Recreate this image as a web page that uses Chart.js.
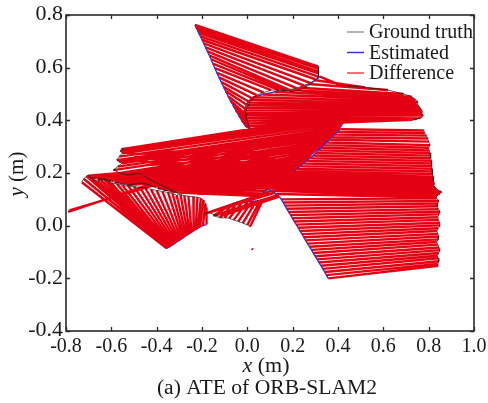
<!DOCTYPE html>
<html><head><meta charset="utf-8">
<script src="https://cdn.jsdelivr.net/npm/chart.js@4.4.0/dist/chart.umd.min.js"></script>
<style>html,body{margin:0;padding:0;background:#fff;}#wrap{width:488px;height:403px;position:relative;}</style>
</head><body><div id="wrap"><canvas id="c" width="488" height="403"></canvas></div>
<script>
// Ground-truth positions (m); null separates trajectory pieces
const gtX = [
 -0.730,-0.722,-0.710,-0.702,-0.690,-0.675,-0.660,-0.645,-0.630,-0.620,
 -0.600,-0.575,-0.550,-0.525,-0.500,-0.475,-0.450,-0.425,-0.400,-0.375,-0.350,-0.330,-0.312,-0.295,-0.278,-0.260,-0.238,-0.220,-0.205,-0.194,-0.185,-0.180, null,
 -0.150,-0.120,-0.100,-0.080,-0.060,-0.040,-0.020,0.000,0.012, null,
 -0.700,-0.685,-0.660,-0.635,-0.610,-0.585,-0.560,-0.532,-0.500,-0.470,-0.445,-0.420,-0.395,-0.370,-0.340,-0.310,
 -0.429,-0.452,-0.474,-0.500,-0.532,-0.560,-0.591,-0.572,-0.554,-0.566,-0.576,-0.565,-0.552,-0.560,-0.556,-0.540, null,
 -0.520,null,-0.500,null,-0.480,null,-0.460,null,-0.440,null,-0.420,null,-0.400,null,-0.380,null,-0.360,null,-0.340,null,-0.320,null,-0.300,null,-0.280,null,-0.260,null,-0.240,null,-0.220, null,
 -0.190,-0.170,-0.140,-0.120, null,
 -0.790,-0.785, null,
 0.778,0.782,0.790,0.796,0.800,0.806,0.800,0.802,0.806,0.810,0.808,0.812,0.813,0.813,0.815,0.815,0.818,0.820,0.820,
 0.822,0.826,0.822,0.828,0.834,0.842,0.857,0.850,0.842,0.836,0.832,
 0.835,0.845,0.840,0.838,0.842,0.850,0.846,0.840,0.843,0.848,0.850,0.842,0.836,0.840,0.845,0.842,0.835,0.840,0.846,0.850,0.844,0.838,0.842,0.845,0.840,0.842, null,
 0.313,0.316,0.312,0.316,0.313,0.300,0.282,0.262,0.235,0.203,0.172,0.140,0.105,0.072,0.041,0.025,0.012,0.004,-0.004,-0.010,-0.006,0.000,0.004,0.008,0.012, null,
 0.410,0.520,0.620,0.690,0.725,0.732,0.742,0.752,0.748,0.756,0.762,0.768,0.772,0.769,0.776,0.772,0.765,0.750,0.730, null,
 0.020
];
const gtY = [
 0.165,0.178,0.188,0.192,0.182,0.172,0.170,0.172,0.174,0.173,
 0.162,0.158,0.152,0.150,0.148,0.146,0.142,0.138,0.134,0.130,0.126,0.122,0.116,0.118,0.114,0.112,0.110,0.108,0.104,0.098,0.085,0.070, null,
 0.038,0.030,0.030,0.028,0.022,0.016,0.010,0.003,-0.004, null,
 0.190,0.182,0.176,0.178,0.172,0.165,0.160,0.154,0.158,0.162,0.158,0.150,0.142,0.136,0.130,0.126,
 0.173,0.186,0.199,0.196,0.192,0.200,0.211,0.224,0.237,0.243,0.249,0.262,0.275,0.283,0.290,0.292, null,
 0.270,null,0.260,null,0.250,null,0.240,null,0.230,null,0.220,null,0.210,null,0.200,null,0.190,null,0.180,null,0.170,null,0.160,null,0.150,null,0.140,null,0.130,null,0.120, null,
 0.045,0.050,0.040,0.035, null,
 0.052,0.058, null,
 0.362,0.352,0.342,0.331,0.319,0.306,0.296,0.286,0.276,0.266,0.256,0.246,0.236,0.226,0.216,0.206,0.196,0.186,0.176,
 0.168,0.160,0.153,0.146,0.140,0.134,0.128,0.122,0.117,0.112,0.108,
 0.104,0.094,0.084,0.074,0.063,0.053,0.043,0.032,0.022,0.011,0.001,-0.010,-0.020,-0.031,-0.041,-0.052,-0.062,-0.072,-0.083,-0.093,-0.104,-0.114,-0.124,-0.135,-0.145,-0.152, null,
 0.604,0.595,0.586,0.577,0.566,0.556,0.540,0.528,0.516,0.509,0.512,0.515,0.515,0.505,0.496,0.482,0.468,0.455,0.440,0.425,0.410,0.398,0.386,0.376,0.368, null,
 0.534,0.525,0.515,0.500,0.490,0.484,0.478,0.470,0.462,0.455,0.447,0.440,0.432,0.426,0.420,0.414,0.410,0.406,0.402, null,
 -0.087
];
// Estimated positions (m), matched one-to-one with the ground truth
const estX = [
 -0.356,-0.352,-0.348,-0.345,-0.342,-0.338,-0.334,-0.330,-0.326,-0.322,
 -0.350,-0.344,-0.338,-0.332,-0.326,-0.320,-0.313,-0.306,-0.299,-0.292,-0.285,-0.278,-0.270,-0.262,-0.254,-0.246,-0.237,-0.228,-0.219,-0.209,-0.196,-0.180, null,
 -0.090,-0.060,-0.040,-0.020,0.000,0.020,0.040,0.058,0.070, null,
 0.280,0.266,0.252,0.238,0.224,0.210,0.196,0.180,0.160,0.140,0.120,0.100,0.088,0.076,0.064,0.052,
 0.285,0.298,0.312,0.325,0.338,0.350,0.362,0.374,0.386,0.398,0.408,0.416,0.424,0.430,0.436,0.442, null,
 0.000,null,0.020,null,0.050,null,0.080,null,0.100,null,0.120,null,0.140,null,0.160,null,0.180,null,0.200,null,0.150,null,0.120,null,0.100,null,0.080,null,0.060,null,0.040, null,
 0.100,0.120,0.130,0.140, null,
 0.100,0.100, null,
 0.410,0.398,0.386,0.374,0.362,0.350,0.338,0.326,0.314,0.302,0.290,0.276,0.262,0.248,0.234,0.220,0.206,0.192,0.176,
 0.150,0.120,0.090,0.060,0.030,0.005,0.015,0.045,0.075,0.105,0.130,
 0.150,0.158,0.166,0.174,0.182,0.191,0.199,0.207,0.216,0.224,0.232,0.241,0.249,0.257,0.266,0.274,0.283,0.291,0.299,0.308,0.316,0.325,0.333,0.341,0.349,0.357, null,
 -0.231,-0.226,-0.220,-0.214,-0.207,-0.200,-0.192,-0.184,-0.176,-0.168,-0.160,-0.152,-0.143,-0.134,-0.125,-0.115,-0.105,-0.095,-0.085,-0.074,-0.062,-0.050,-0.037,-0.024,-0.010, null,
 0.320,0.300,0.270,0.230,0.190,0.120,0.070,0.025,0.012,0.002,-0.004,-0.010,-0.014,-0.016,-0.014,-0.010,-0.004,0.002,0.008, null,
 0.024
];
const estY = [
 -0.086,-0.084,-0.082,-0.080,-0.079,-0.077,-0.075,-0.073,-0.071,-0.069,
 -0.083,-0.080,-0.077,-0.074,-0.071,-0.067,-0.063,-0.059,-0.055,-0.051,-0.047,-0.043,-0.038,-0.034,-0.029,-0.025,-0.020,-0.015,-0.010,-0.005,0.000,0.004, null,
 0.070,0.085,0.090,0.092,0.090,0.092,0.094,0.097,0.100, null,
 0.262,0.252,0.242,0.232,0.222,0.212,0.202,0.192,0.182,0.172,0.162,0.152,0.142,0.132,0.122,0.112,
 0.272,0.282,0.292,0.302,0.312,0.322,0.332,0.342,0.352,0.362,0.372,0.382,0.392,0.402,0.412,0.424, null,
 0.300,null,0.290,null,0.280,null,0.270,null,0.260,null,0.250,null,0.240,null,0.230,null,0.220,null,0.215,null,0.205,null,0.190,null,0.175,null,0.160,null,0.150,null,0.140, null,
 0.130,0.125,0.115,0.110, null,
 0.310,0.285, null,
 0.366,0.356,0.346,0.336,0.326,0.316,0.306,0.296,0.286,0.276,0.266,0.256,0.246,0.236,0.226,0.216,0.207,0.200,0.195,
 0.188,0.184,0.180,0.176,0.171,0.166,0.156,0.150,0.142,0.132,0.120,
 0.100,0.088,0.076,0.064,0.052,0.040,0.028,0.016,0.004,-0.008,-0.020,-0.032,-0.044,-0.056,-0.068,-0.080,-0.092,-0.104,-0.116,-0.128,-0.140,-0.152,-0.164,-0.176,-0.188,-0.200, null,
 0.762,0.752,0.742,0.731,0.719,0.706,0.692,0.677,0.662,0.647,0.632,0.615,0.598,0.580,0.563,0.545,0.527,0.510,0.492,0.474,0.456,0.437,0.418,0.398,0.380, null,
 0.566,0.552,0.538,0.524,0.515,0.508,0.498,0.488,0.478,0.468,0.458,0.448,0.438,0.428,0.418,0.408,0.398,0.388,0.378, null,
 -0.091
];
const seriesNames = ['Ground truth', 'Estimated', 'Difference'];
const xTickLabels = ['-0.8','-0.6','-0.4','-0.2','0.0','0.2','0.4','0.6','0.8','1.0'];
const yTickLabels = ['-0.4','-0.2','0.0','0.2','0.4','0.6','0.8'];
const xTitle = ['x', ' (m)'];
const yTitle = ['y', ' (m)'];
const caption = '(a) ATE of ORB-SLAM2';

function toPts(xs, ys) {
  return xs.map((x, i) => (x === null ? {x: NaN, y: null} : {x: x, y: ys[i]}));
}
const diffPts = [];
for (let i = 0; i < gtX.length; i++) {
  if (gtX[i] === null) continue;
  diffPts.push({x: gtX[i], y: gtY[i]}, {x: estX[i], y: estY[i]}, {x: NaN, y: null});
}

const SERIF = '"Liberation Serif", "Times New Roman", serif';
function mixed(ctx, parts, cx, cy, sx, size) {
  let w = 0;
  parts.forEach((p, i) => { ctx.font = (i === 0 && p.length === 1 ? 'italic ' : '') + size + 'px ' + SERIF; w += ctx.measureText(p).width; });
  ctx.save(); ctx.translate(cx, cy); ctx.scale(sx, 1);
  let x = -w / 2;
  ctx.textAlign = 'left'; ctx.textBaseline = 'middle';
  parts.forEach((p, i) => { ctx.font = (i === 0 && p.length === 1 ? 'italic ' : '') + size + 'px ' + SERIF; ctx.fillText(p, x, 0); x += ctx.measureText(p).width; });
  ctx.restore();
}

const frame = {
  id: 'frame',
  afterDraw(chart) {
    const {ctx, chartArea: a, scales} = chart;
    const xs = scales.x, ys = scales.y;
    ctx.save();
    ctx.strokeStyle = '#2a2a2a'; ctx.lineWidth = 1.6;
    ctx.strokeRect(a.left, a.top, a.right - a.left, a.bottom - a.top);
    ctx.lineWidth = 1.3;
    ctx.beginPath();
    xTickLabels.forEach(l => { const p = Math.round(xs.getPixelForValue(parseFloat(l))) + 0.5;
      ctx.moveTo(p, a.bottom); ctx.lineTo(p, a.bottom - 4); ctx.moveTo(p, a.top); ctx.lineTo(p, a.top + 4); });
    yTickLabels.forEach(l => { const p = Math.round(ys.getPixelForValue(parseFloat(l))) + 0.5;
      ctx.moveTo(a.left, p); ctx.lineTo(a.left + 4, p); ctx.moveTo(a.right, p); ctx.lineTo(a.right - 4, p); });
    ctx.stroke();
    ctx.fillStyle = '#1a1a1a';
    ctx.font = '20px ' + SERIF; ctx.textBaseline = 'middle'; ctx.textAlign = 'center';
    xTickLabels.forEach(l => ctx.fillText(l, xs.getPixelForValue(parseFloat(l)), a.bottom + 16));
    ctx.textAlign = 'right';
    yTickLabels.forEach(l => { ctx.save(); ctx.translate(a.left - 3, ys.getPixelForValue(parseFloat(l))); ctx.scale(1.1, 1); ctx.fillText(l, 0, 0); ctx.restore(); });
    mixed(ctx, xTitle, 266, 367, 1.1, 20);
    ctx.save(); ctx.translate(18, 174); ctx.rotate(-Math.PI / 2); mixed(ctx, yTitle, 0, 0, 1.05, 20); ctx.restore();
    ctx.font = '20px ' + SERIF; ctx.textAlign = 'center';
    ctx.save(); ctx.translate(267, 389); ctx.scale(1.08, 1); ctx.fillText(caption, 0, 0); ctx.restore();
    // legend
    const cols = ['#9a9a9a', '#3535d0', '#f04646'];
    const rows = [32, 52.5, 73];
    ctx.textAlign = 'left'; ctx.lineWidth = 1.5;
    seriesNames.forEach((n, i) => {
      ctx.strokeStyle = cols[i]; ctx.beginPath(); ctx.moveTo(347, rows[i]); ctx.lineTo(364, rows[i]); ctx.stroke();
      ctx.fillStyle = '#1a1a1a'; ctx.font = '20px ' + SERIF; ctx.fillText(n, 369, rows[i] + 1);
    });
    ctx.restore();
  }
};

new Chart(document.getElementById('c').getContext('2d'), {
  type: 'scatter',
  data: { datasets: [
    {label: seriesNames[0], data: toPts(gtX, gtY), showLine: true, borderColor: 'rgba(25,25,25,0.7)', borderWidth: 1, pointRadius: 0, spanGaps: false, tension: 0, order: 0},
    {label: seriesNames[1], data: toPts(estX, estY), showLine: true, borderColor: '#2e2ed8', borderWidth: 1.4, pointRadius: 0, spanGaps: false, tension: 0, order: 2},
    {label: seriesNames[2], data: diffPts, showLine: true, borderColor: 'rgb(228,0,18)', borderWidth: 2.4, pointRadius: 0, spanGaps: false, tension: 0, order: 1}
  ]},
  options: {
    animation: false, responsive: false, devicePixelRatio: 1,
    layout: {padding: {left: 66, right: 14, top: 15, bottom: 72}},
    plugins: {legend: {display: false}, tooltip: {enabled: false}},
    scales: {
      x: {type: 'linear', min: -0.8, max: 1.0, ticks: {display: false, stepSize: 0.2}, grid: {display: false, drawTicks: false}, border: {display: false}, afterFit(s) { s.height = 0; }},
      y: {type: 'linear', min: -0.4, max: 0.8, ticks: {display: false, stepSize: 0.2}, grid: {display: false, drawTicks: false}, border: {display: false}, afterFit(s) { s.width = 0; }}
    }
  },
  plugins: [frame]
});
</script></body></html>
